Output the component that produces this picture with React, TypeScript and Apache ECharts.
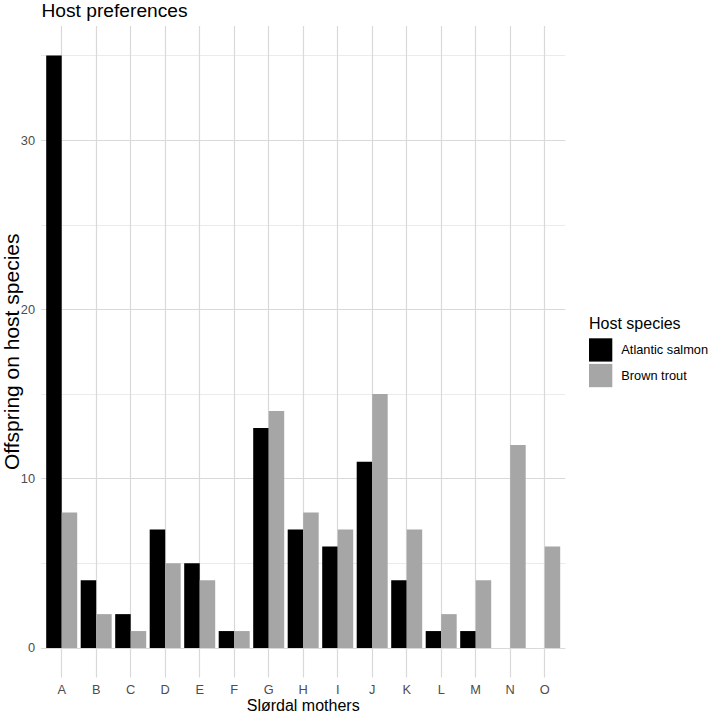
import React, { useEffect, useRef } from "react";
import * as echarts from "echarts";

const categories = ["A", "B", "C", "D", "E", "F", "G", "H", "I", "J", "K", "L", "M", "N", "O"];
const atlanticSalmon = [35, 4, 2, 7, 5, 1, 13, 7, 6, 11, 4, 1, 1, 0, 0];
const brownTrout = [8, 2, 1, 5, 4, 1, 14, 8, 7, 15, 7, 2, 4, 12, 6];
const yMajorTicks = [0, 10, 20, 30];
const yMinorTicks = [5, 15, 25, 35];

const FONT = "'Liberation Sans', Arial, Helvetica, sans-serif";

export default function App() {
  const ref = useRef<HTMLDivElement>(null);
  useEffect(() => {
    if (!ref.current) return;
    const chart = echarts.init(ref.current, undefined, { renderer: "svg" });
    const idx = categories.map((_, i) => i);
    const majorLine = { color: "#d9d9d9", width: 1.2, type: "solid" };
    const minorLine = { color: "#e6e6e6", width: 0.8, type: "solid" };
    const gridLines = [
      ...yMinorTicks.map((v) => ({ yAxis: v, lineStyle: minorLine })),
      ...yMajorTicks.map((v) => ({ yAxis: v, lineStyle: majorLine })),
      ...idx.map((v) => ({ xAxis: v, lineStyle: majorLine })),
    ];
    chart.setOption({
      animation: false,
      textStyle: { fontFamily: FONT },
      title: [
        {
          text: "Host preferences",
          left: 41.5,
          top: 1,
          padding: 0,
          textStyle: { fontSize: 19.2, fontWeight: "normal", color: "#000", fontFamily: FONT },
        },
        {
          text: "Host species",
          left: 589,
          top: 315,
          padding: 0,
          textStyle: { fontSize: 16, fontWeight: "normal", color: "#000", fontFamily: FONT },
        },
      ],
      legend: {
        orient: "vertical",
        left: 589,
        top: 338.3,
        padding: 0,
        itemWidth: 23.3,
        itemHeight: 23.3,
        itemGap: 2.3,
        icon: "rect",
        data: ["Atlantic salmon", "Brown trout"],
        textStyle: { fontSize: 12.8, color: "#000", fontFamily: FONT, padding: [0, 0, 0, 4] },
      },
      grid: { left: 41, right: 142.6, top: 26, bottom: 36.4, containLabel: false, outerBoundsMode: "none" },
      xAxis: {
        type: "value",
        min: -0.6,
        max: 14.6,
        axisLine: { show: false },
        axisTick: { show: false },
        splitLine: { show: false },
        axisLabel: {
          customValues: idx,
          formatter: (v: number) => categories[Math.round(v)] ?? "",
          color: "#4d4d4d",
          fontSize: 12.8,
          margin: 5,
          fontFamily: FONT,
        },
        name: "Slørdal mothers",
        nameLocation: "middle",
        nameGap: 19.5,
        nameMoveOverlap: false,
        nameTextStyle: { fontSize: 16, color: "#000", fontFamily: FONT },
      },
      yAxis: {
        type: "value",
        min: -1.75,
        max: 36.75,
        axisLine: { show: false },
        axisTick: { show: false },
        splitLine: { show: false },
        axisLabel: {
          customValues: yMajorTicks,
          color: "#4d4d4d",
          fontSize: 12.8,
          margin: 6,
          fontFamily: FONT,
        },
        name: "Offspring on host species",
        nameLocation: "middle",
        nameRotate: 90,
        nameGap: 19,
        nameMoveOverlap: false,
        nameTextStyle: { fontSize: 21, color: "#000", fontFamily: FONT },
      },
      series: [
        {
          name: "grid",
          type: "line",
          data: [],
          z: 1,
          silent: true,
          markLine: {
            z: 1,
            silent: true,
            symbol: "none",
            label: { show: false },
            emphasis: { disabled: true },
            data: gridLines,
          },
        },
        {
          name: "Atlantic salmon",
          type: "bar",
          z: 3,
          barWidth: 15.5,
          barGap: "0%",
          itemStyle: { color: "#000000" },
          data: idx.map((i) => [i, atlanticSalmon[i]]),
        },
        {
          name: "Brown trout",
          type: "bar",
          z: 3,
          barWidth: 15.5,
          barGap: "0%",
          itemStyle: { color: "#a6a6a6" },
          data: idx.map((i) => [i, brownTrout[i]]),
        },
      ],
    });
    return () => chart.dispose();
  }, []);
  return <div ref={ref} style={{ width: 708, height: 714, position: "absolute", left: 0, top: 0 }} />;
}
